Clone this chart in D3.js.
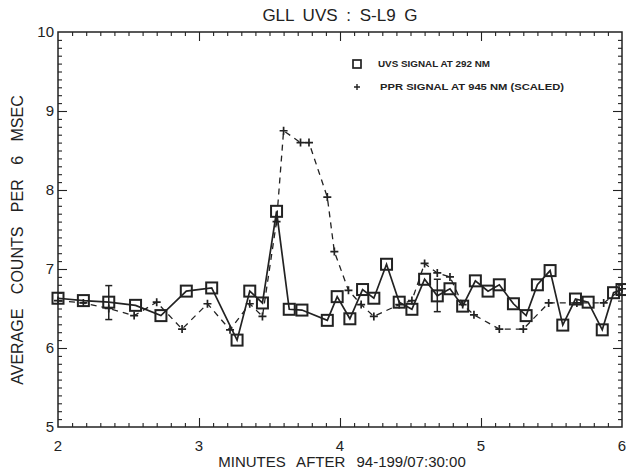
<!DOCTYPE html>
<html>
<head>
<meta charset="utf-8">
<script src="https://cdn.jsdelivr.net/npm/d3@7"></script>
<style>
  body { margin: 0; background: #fff; }
  svg text { font-family: "Liberation Sans", Arial, sans-serif; fill: #222; }
</style>
</head>
<body>
<svg id="chart" width="626" height="470"></svg>
<script>
// UVS signal at 292 nm (squares, solid line)
const uvsX = [2.00, 2.18, 2.36, 2.55, 2.73, 2.91, 3.09, 3.27, 3.36, 3.45, 3.55, 3.64, 3.73, 3.91, 3.98,
              4.07, 4.16, 4.24, 4.33, 4.42, 4.51, 4.60, 4.69, 4.78, 4.87, 4.96, 5.05, 5.13, 5.23, 5.32,
              5.40, 5.49, 5.58, 5.67, 5.76, 5.86, 5.94, 6.00];
const uvsY = [6.63, 6.60, 6.58, 6.54, 6.41, 6.72, 6.76, 6.10, 6.72, 6.57, 7.73, 6.49, 6.48, 6.35, 6.65,
              6.37, 6.74, 6.63, 7.06, 6.58, 6.49, 6.87, 6.66, 6.75, 6.53, 6.85, 6.72, 6.80, 6.56, 6.41,
              6.80, 6.98, 6.29, 6.62, 6.58, 6.23, 6.70, 6.74];

// PPR signal at 945 nm, scaled (plus signs, dashed line)
const pprX = [2.00, 2.18, 2.36, 2.54, 2.70, 2.88, 3.06, 3.22, 3.36, 3.45, 3.55, 3.60, 3.72, 3.78, 3.91,
              3.96, 4.06, 4.15, 4.24, 4.42, 4.51, 4.60, 4.69, 4.78, 4.87, 4.95, 5.13, 5.30, 5.48, 5.68,
              5.87, 6.00];
const pprY = [6.60, 6.57, 6.50, 6.41, 6.58, 6.24, 6.56, 6.23, 6.56, 6.40, 7.60, 8.75, 8.60, 8.60, 7.91,
              7.22, 6.73, 6.55, 6.40, 6.55, 6.60, 7.07, 6.95, 6.90, 6.55, 6.42, 6.24, 6.24, 6.57, 6.57,
              6.57, 6.75];

// error bars on a few UVS points
const errX  = [2.36, 4.69];
const errLo = [6.36, 6.46];
const errHi = [6.79, 6.87];

const legendLabels = ["UVS SIGNAL AT 292 NM", "PPR SIGNAL AT 945 NM (SCALED)"];

const margin = {top: 32, right: 4, bottom: 43, left: 58};
const width = 626 - margin.left - margin.right;
const height = 470 - margin.top - margin.bottom;
const ink = "#222";

const svg = d3.select("#chart");
const g = svg.append("g")
    .attr("transform", "translate(" + margin.left + "," + margin.top + ")");

const x = d3.scaleLinear().domain([2, 6]).range([0, width]);
const y = d3.scaleLinear().domain([5, 10]).range([height, 0]);

// ticks (major + minor), on all four sides, pointing inward
const xMinor = d3.range(2, 6.001, 0.1);
const yMinor = d3.range(5, 10.001, 0.1);
const isMajor = v => Math.abs(v - Math.round(v)) < 1e-6;

function tickAxis(axis, vals, len) {
  return axis.tickValues(vals).tickSize(len).tickFormat("").tickSizeOuter(0);
}
g.append("g").attr("transform", "translate(0," + height + ")")
  .call(tickAxis(d3.axisTop(x), xMinor.filter(v => !isMajor(v)), 4));
g.append("g").attr("transform", "translate(0," + height + ")")
  .call(tickAxis(d3.axisTop(x), [3, 4, 5], 9));
g.append("g")
  .call(tickAxis(d3.axisBottom(x), xMinor.filter(v => !isMajor(v)), 4));
g.append("g")
  .call(tickAxis(d3.axisBottom(x), [3, 4, 5], 9));
g.append("g")
  .call(tickAxis(d3.axisRight(y), yMinor.filter(v => !isMajor(v)), 4));
g.append("g")
  .call(tickAxis(d3.axisRight(y), [6, 7, 8, 9], 9));
g.append("g").attr("transform", "translate(" + width + ",0)")
  .call(tickAxis(d3.axisLeft(y), yMinor.filter(v => !isMajor(v)), 4));
g.append("g").attr("transform", "translate(" + width + ",0)")
  .call(tickAxis(d3.axisLeft(y), [6, 7, 8, 9], 9));
g.selectAll(".domain").remove();
g.selectAll(".tick line").attr("stroke", ink).attr("stroke-width", 1.1);

// frame
g.append("rect")
  .attr("width", width).attr("height", height)
  .attr("fill", "none").attr("stroke", ink).attr("stroke-width", 1.5);

// tick labels
g.selectAll(".xlab").data([2, 3, 4, 5, 6]).enter().append("text")
  .attr("x", d => x(d)).attr("y", height + 24)
  .attr("text-anchor", "middle").attr("font-size", 15)
  .text(d => d);
g.selectAll(".ylab").data([5, 6, 7, 8, 9, 10]).enter().append("text")
  .attr("x", -4).attr("y", d => y(d) + 5)
  .attr("text-anchor", "end").attr("font-size", 15)
  .text(d => d);

// titles
svg.append("text").attr("x", 340).attr("y", 21)
  .attr("text-anchor", "middle").attr("font-size", 17)
  .style("word-spacing", "4px")
  .text("GLL UVS : S-L9 G");
svg.append("text").attr("x", 342).attr("y", 467)
  .attr("text-anchor", "middle").attr("font-size", 15)
  .style("word-spacing", "7px")
  .text("MINUTES AFTER 94-199/07:30:00");
svg.append("text")
  .attr("transform", "translate(23,240) rotate(-90)")
  .attr("text-anchor", "middle").attr("font-size", 16)
  .style("word-spacing", "10px")
  .text("AVERAGE COUNTS PER 6 MSEC");

// PPR dashed line + plus markers
const line = d3.line().x(d => x(d[0])).y(d => y(d[1]));
const ppr = pprX.map((v, i) => [v, pprY[i]]);
const uvs = uvsX.map((v, i) => [v, uvsY[i]]);

g.append("path").datum(ppr)
  .attr("d", line).attr("fill", "none")
  .attr("stroke", ink).attr("stroke-width", 1.3)
  .attr("stroke-dasharray", "6,5");

g.selectAll(".ppr").data(ppr).enter().append("path")
  .attr("transform", d => "translate(" + x(d[0]) + "," + y(d[1]) + ")")
  .attr("d", "M-4,0H4M0,-4V4")
  .attr("stroke", ink).attr("stroke-width", 1.7);

// UVS solid line + squares
g.append("path").datum(uvs)
  .attr("d", line).attr("fill", "none")
  .attr("stroke", ink).attr("stroke-width", 1.7);

g.selectAll(".uvs").data(uvs).enter().append("rect")
  .attr("x", d => x(d[0]) - 5.5).attr("y", d => y(d[1]) - 5.5)
  .attr("width", 11).attr("height", 11)
  .attr("fill", "none").attr("stroke", ink).attr("stroke-width", 2);

// error bars
errX.forEach((v, i) => {
  const eg = g.append("g").attr("stroke", ink).attr("stroke-width", 1.5);
  eg.append("line").attr("x1", x(v)).attr("x2", x(v))
    .attr("y1", y(errLo[i])).attr("y2", y(errHi[i]));
  [errLo[i], errHi[i]].forEach(e => {
    eg.append("line").attr("x1", x(v) - 3.5).attr("x2", x(v) + 3.5)
      .attr("y1", y(e)).attr("y2", y(e));
  });
});

// legend
const leg = svg.append("g").attr("transform", "translate(357,64)");
leg.append("rect").attr("x", -4).attr("y", -4).attr("width", 8).attr("height", 8)
  .attr("fill", "none").attr("stroke", ink).attr("stroke-width", 1.7);
leg.append("path").attr("d", "M-3,23H3M0,20V26").attr("stroke", ink).attr("stroke-width", 1.4);
leg.selectAll("text").data(legendLabels).enter().append("text")
  .attr("x", (d, i) => 21 + i * 2).attr("y", (d, i) => 3 + i * 23)
  .attr("font-size", 8.5).attr("font-weight", "bold")
  .attr("textLength", (d, i) => i === 0 ? 112 : 184)
  .attr("lengthAdjust", "spacingAndGlyphs")
  .text(d => d);
</script>
</body>
</html>
